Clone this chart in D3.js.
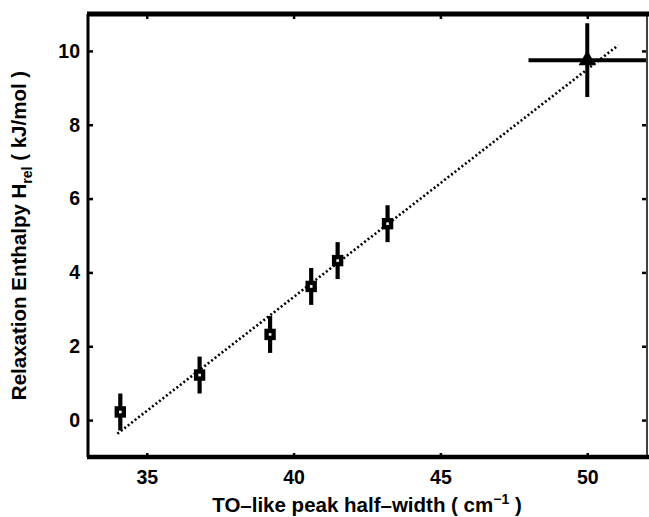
<!DOCTYPE html>
<html>
<head>
<meta charset="utf-8">
<script src="https://cdn.jsdelivr.net/npm/d3@7"></script>
<style>
  html, body { margin: 0; padding: 0; background: #fff; }
  svg { display: block; }
  text { font-family: "Liberation Sans", Arial, Helvetica, sans-serif; font-weight: bold; fill: #000; }
</style>
</head>
<body>
<svg id="chart" width="649" height="517"></svg>
<script>
// ---- data ----
const halfWidth = [34.1, 36.8, 39.2, 40.6, 41.5, 43.2];
const enthalpy  = [0.22, 1.22, 2.32, 3.62, 4.32, 5.32];
const enthErr   = [0.5, 0.5, 0.5, 0.5, 0.5, 0.5];
const triX = [50.0];
const triY = [9.75];
const triXErr = [2.0];
const triYErr = [1.0];
const fitX = [34.0, 51.05];
const fitY = [-0.37, 10.15];
const xTicks = [35, 40, 45, 50];
const yTicks = [0, 2, 4, 6, 8, 10];
const xDomain = [33, 52];
const yDomain = [-1, 11];

// ---- layout ----
const svg = d3.select("#chart");
const L = 88, R = 646, T = 14, B = 457;
const x = d3.scaleLinear().domain(xDomain).range([L, R]);
const y = d3.scaleLinear().domain(yDomain).range([B, T]);

// fit line (dotted)
svg.append("path")
  .datum(fitX.map((v, i) => [v, fitY[i]]))
  .attr("d", d3.line().x(d => x(d[0])).y(d => y(d[1])))
  .attr("fill", "none").attr("stroke", "#000")
  .attr("stroke-width", 2.6).attr("stroke-dasharray", "2,2.4");

// axes (ticks inward)
const gB = svg.append("g").attr("transform", `translate(0,${B})`)
  .call(d3.axisBottom(x).tickValues(xTicks).tickSize(-4).tickPadding(13).tickFormat(d3.format("d")));
const gT = svg.append("g").attr("transform", `translate(0,${T})`)
  .call(d3.axisTop(x).tickValues(xTicks).tickSize(-5).tickFormat(""));
const gL = svg.append("g").attr("transform", `translate(${L},0)`)
  .call(d3.axisLeft(y).tickValues(yTicks).tickSize(-5).tickPadding(8).tickFormat(d3.format("d")));
const gR = svg.append("g").attr("transform", `translate(${R},0)`)
  .call(d3.axisRight(y).tickValues(yTicks).tickSize(-4).tickFormat(""));
[gB, gT, gL, gR].forEach(g => {
  g.select(".domain").remove();
  g.selectAll(".tick line").attr("stroke", "#000").attr("stroke-width", 2.5);
  g.selectAll(".tick text").style("font-size", "19.5px").style("font-family", "'Liberation Sans', Arial, sans-serif").style("font-weight", "bold");
});

// frame
svg.append("line").attr("x1", L - 1).attr("x2", 649).attr("y1", T).attr("y2", T)
  .attr("stroke", "#000").attr("stroke-width", 5);
svg.append("line").attr("x1", L - 1).attr("x2", 649).attr("y1", B).attr("y2", B)
  .attr("stroke", "#000").attr("stroke-width", 4.5);
svg.append("line").attr("x1", L).attr("x2", L).attr("y1", T).attr("y2", B)
  .attr("stroke", "#000").attr("stroke-width", 3);
svg.append("line").attr("x1", R + 1).attr("x2", R + 1).attr("y1", T).attr("y2", B)
  .attr("stroke", "#000").attr("stroke-width", 1.5);

// error bars for squares
svg.append("g").selectAll("line").data(halfWidth).join("line")
  .attr("x1", d => x(d)).attr("x2", d => x(d))
  .attr("y1", (d, i) => y(enthalpy[i] - enthErr[i]))
  .attr("y2", (d, i) => y(enthalpy[i] + enthErr[i]))
  .attr("stroke", "#000").attr("stroke-width", 4.2);

// squares
svg.append("g").selectAll("rect").data(halfWidth).join("rect")
  .attr("x", d => x(d) - 3.5).attr("y", (d, i) => y(enthalpy[i]) - 3.5)
  .attr("width", 7).attr("height", 7)
  .attr("fill", "#fff").attr("stroke", "#000").attr("stroke-width", 4.4);

// triangle point with error bars
triX.forEach((v, i) => {
  svg.append("line").attr("x1", x(v - triXErr[i])).attr("x2", x(v + triXErr[i]))
    .attr("y1", y(triY[i])).attr("y2", y(triY[i]))
    .attr("stroke", "#000").attr("stroke-width", 4);
  svg.append("line").attr("x1", x(v)).attr("x2", x(v))
    .attr("y1", y(triY[i] - triYErr[i])).attr("y2", y(triY[i] + triYErr[i]))
    .attr("stroke", "#000").attr("stroke-width", 4);
  svg.append("path")
    .attr("transform", `translate(${x(v)},${y(triY[i])})`)
    .attr("d", d3.symbol(d3.symbolTriangle, 130)())
    .attr("fill", "#000");
});

// axis titles
const xt = svg.append("text").attr("x", (L + R) / 2).attr("y", 512)
  .attr("text-anchor", "middle").style("font-size", "20.5px");
xt.append("tspan").text("TO\u2013like peak half\u2013width ( cm");
xt.append("tspan").attr("dy", -8).style("font-size", "14px").text("\u22121");
xt.append("tspan").attr("dy", 8).text(" )");

const yt = svg.append("text")
  .attr("transform", `translate(26,${(T + B) / 2}) rotate(-90)`)
  .attr("text-anchor", "middle").style("font-size", "20.5px");
yt.append("tspan").text("Relaxation Enthalpy H");
yt.append("tspan").attr("dy", 6).style("font-size", "14px").text("rel");
yt.append("tspan").attr("dy", -6).text(" ( kJ/mol )");
</script>
</body>
</html>
